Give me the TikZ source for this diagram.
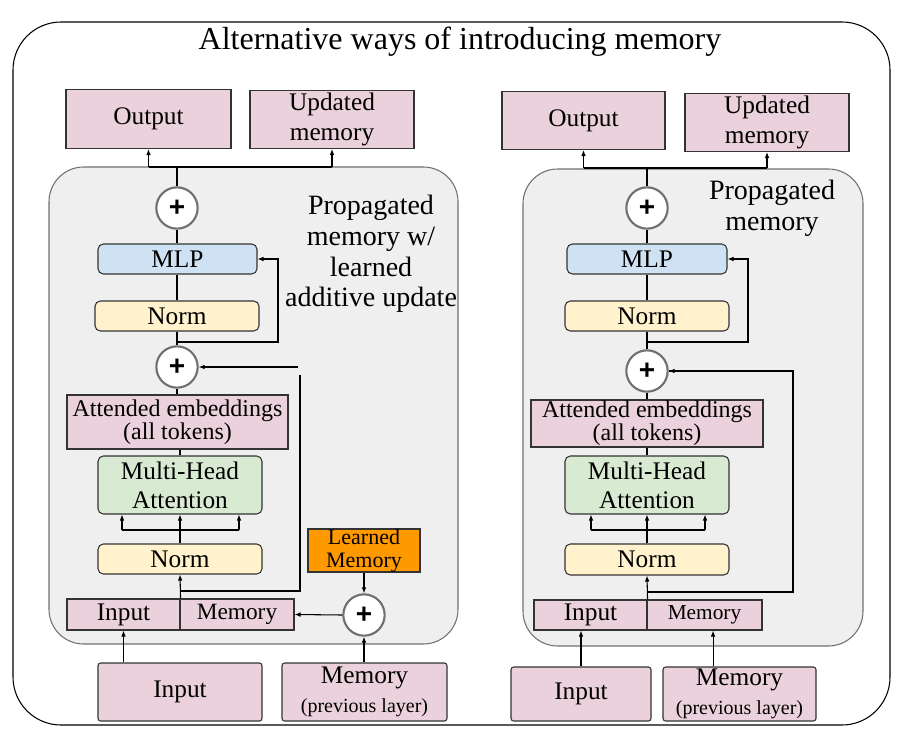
\documentclass[tikz,border=0pt]{standalone}
\usepackage{fontspec}
\setmainfont{Liberation Serif}
\setsansfont{Liberation Sans}
\usetikzlibrary{arrows.meta, positioning, calc}
\definecolor{pinkbox}{HTML}{EAD1DC}
\definecolor{bluebox}{HTML}{CFE2F3}
\definecolor{yellowbox}{HTML}{FFF2CC}
\definecolor{greenbox}{HTML}{D9EAD3}
\definecolor{orangebox}{HTML}{FF9900}
\definecolor{panelgray}{HTML}{EFEFEF}
\definecolor{edgegray}{HTML}{707070}
\begin{document}
\begin{tikzpicture}[x=0.75pt, y=-0.75pt,
  blk/.style={draw=black!80, line width=0.8pt, inner sep=0pt, align=center, font=\fontsize{19}{22}\selectfont},
  sqbox/.style={blk, fill=pinkbox},
  rbox/.style={blk, rounded corners=4pt},
  addnode/.style={circle, draw=edgegray, line width=1.6pt, fill=white, minimum size=31pt, inner sep=0pt, font=\sffamily\bfseries\fontsize{21}{21}\selectfont},
  panel/.style={draw=edgegray, line width=0.8pt, fill=panelgray, rounded corners=26pt},
  arr/.style={-{Latex[length=4.5pt, width=3.5pt]}, line width=0.8pt},
  ln/.style={line width=0.8pt}
]
\useasboundingbox (0,0) rectangle (906,742);
\draw[line width=0.8pt, rounded corners=36pt] (13,22) rectangle (890,725);
\node[font=\fontsize{24}{28}\selectfont] (title) at (460,42) {Alternative ways of introducing memory};

\node[sqbox, minimum width=123.75pt, minimum height=44.25pt] (outL) at (148.5,119) {Output};
\node[sqbox, minimum width=123pt, minimum height=43.5pt] (updL) at (332,119.5) {Updated\\memory};
\draw[panel] (49,167) rectangle (458,644);
\node[addnode] (plusL1) at (177,208) {+};
\node[rbox, fill=bluebox, minimum width=119.25pt, minimum height=22.5pt] (mlpL) at (177.5,259) {MLP};
\node[rbox, fill=yellowbox, minimum width=123pt, minimum height=22.5pt] (normLa) at (177,316) {Norm};
\node[addnode] (plusL2) at (177,367) {+};
\node[sqbox, minimum width=165.75pt, minimum height=40.5pt, font=\fontsize{18}{17}\selectfont] (attL) at (177.5,422) {Attended embeddings\\(all tokens)};
\node[rbox, fill=greenbox, minimum width=123pt, minimum height=43.5pt] (mhaL) at (180,485) {Multi-Head\\Attention};
\node[rbox, fill=yellowbox, minimum width=123pt, minimum height=22.5pt] (normLb) at (180,559) {Norm};
\node[sqbox, minimum width=84.75pt, minimum height=23.25pt] (inL) at (123.5,614.5) {Input};
\node[sqbox, minimum width=85.5pt, minimum height=23.25pt, font=\fontsize{17.5}{20}\selectfont] (memL) at (237,614.5) {Memory};
\node[sqbox, fill=orangebox, minimum width=84pt, minimum height=32.25pt, font=\fontsize{16.5}{17}\selectfont] (lmemL) at (364,550.5) {Learned\\Memory};
\node[addnode] (plusL3) at (364,615) {+};
\node[sqbox, rounded corners=2pt, minimum width=123pt, minimum height=43.5pt] (inbL) at (180,692) {Input};
\node[sqbox, rounded corners=2pt, minimum width=123.75pt, minimum height=43.5pt] (prevL) at (364.5,692) {Memory\\{\fontsize{15}{19}\selectfont(previous layer)}};
\node[align=center, font=\fontsize{21}{23}\selectfont] (noteL) at (371,254) {Propagated\\memory w/\\learned\\additive update};

\coordinate (topL) at (177,167);
\coordinate (fbL) at (278,342);
\coordinate (qL) at (122,530);
\coordinate (vL) at (239,530);
\coordinate (resL) at (300,591);
\coordinate (resLtop) at (300,375);
\coordinate (resLin) at (298,367);
\draw[ln] (plusL1.north) -- (topL);
\draw[ln] (outL.south |- topL) -- (updL.south |- topL);
\draw[arr] (outL.south |- topL) -- (outL.south);
\draw[arr] (updL.south |- topL) -- (updL.south);
\draw[ln] (plusL1.south) -- (plusL1.south |- mlpL.north);
\draw[ln] (normLa.north -| plusL1) -- (plusL1 |- mlpL.south);
\draw[ln] (normLa.south) -- (plusL2.north);
\draw[arr] (plusL2.north |- fbL) -- (fbL) |- (mlpL.east);
\draw[ln] (plusL2.south) -- (plusL2.south |- attL.north);
\draw[ln] (attL.south -| mhaL.north) -- (mhaL.north);
\draw[ln] (normLb.north) -- (normLb.north |- qL);
\draw[ln] (qL) -- (vL);
\foreach \c in {qL, vL} \draw[arr] (\c) -- (\c |- mhaL.south);
\draw[arr] (normLb.north |- qL) -- (mhaL.south -| normLb.north);
\draw[arr] (inL.north east) -- (normLb.south);
\draw[ln] (inL.north east |- resL) -- (resL) -- (resLtop);
\draw[arr] (resLin) -- (plusL2.east);
\draw[arr] (lmemL.south) -- (plusL3.north);
\draw[arr] (plusL3.west) -- (memL.east);
\draw[arr] (prevL.north -| plusL3) -- (plusL3.south);
\draw[arr] (inbL.north -| inL) -- (inL.south);

\node[sqbox, minimum width=122.25pt, minimum height=43.5pt] (outR) at (583.5,120.5) {Output};
\node[sqbox, minimum width=123pt, minimum height=43.5pt] (updR) at (767,122.5) {Updated\\memory};
\draw[panel] (523,169) rectangle (863,646);
\node[addnode] (plusR1) at (647,208) {+};
\node[rbox, fill=bluebox, minimum width=120pt, minimum height=22.5pt] (mlpR) at (647,259) {MLP};
\node[rbox, fill=yellowbox, minimum width=123pt, minimum height=22.5pt] (normRa) at (647,316) {Norm};
\node[addnode] (plusR2) at (647,371) {+};
\node[sqbox, minimum width=174pt, minimum height=35.25pt, font=\fontsize{18}{17}\selectfont] (attR) at (647,423.5) {Attended embeddings\\(all tokens)};
\node[rbox, fill=greenbox, minimum width=123pt, minimum height=43.5pt] (mhaR) at (647,485) {Multi-Head\\Attention};
\node[rbox, fill=yellowbox, minimum width=123pt, minimum height=23.25pt] (normRb) at (647,559.5) {Norm};
\node[sqbox, minimum width=84.75pt, minimum height=22.5pt] (inR) at (590.5,615) {Input};
\node[sqbox, minimum width=86.25pt, minimum height=22.5pt, font=\fontsize{16}{18}\selectfont] (memR) at (704.5,615) {Memory};
\node[sqbox, rounded corners=2pt, minimum width=105pt, minimum height=40.5pt] (inbR) at (581,694) {Input};
\node[sqbox, rounded corners=2pt, minimum width=114.75pt, minimum height=40.5pt] (prevR) at (739.5,694) {Memory\\{\fontsize{15}{19}\selectfont(previous layer)}};
\node[align=center, font=\fontsize{21}{23}\selectfont] (noteR) at (772,208) {Propagated\\memory};

\coordinate (topR) at (647,168);
\coordinate (fbR) at (748,342);
\coordinate (qR) at (591,530);
\coordinate (vR) at (705,530);
\coordinate (resR) at (793,592);
\draw[ln] (plusR1.north) -- (topR);
\draw[ln] (outR.south |- topR) -- (updR.south |- topR);
\draw[arr] (outR.south |- topR) -- (outR.south);
\draw[arr] (updR.south |- topR) -- (updR.south);
\draw[ln] (plusR1.south) -- (mlpR.north);
\draw[ln] (mlpR.south) -- (normRa.north);
\draw[ln] (normRa.south) -- (plusR2.north);
\draw[arr] (plusR2.north |- fbR) -- (fbR) |- (mlpR.east);
\draw[ln] (plusR2.south) -- (attR.north);
\draw[ln] (attR.south) -- (mhaR.north);
\draw[ln] (normRb.north) -- (normRb.north |- qR);
\draw[ln] (qR) -- (vR);
\foreach \c in {qR, vR} \draw[arr] (\c) -- (\c |- mhaR.south);
\draw[arr] (normRb.north |- qR) -- (mhaR.south);
\draw[arr] (inR.north east) -- (normRb.south);
\draw[ln] (inR.north east |- resR) -- (resR) |- (plusR2.east);
\draw[arr] (resR |- plusR2.east) -- (plusR2.east);
\draw[arr] (inbR.north) -- (inbR.north |- inR.south);
\draw[arr] ([xshift=6.4pt]memR.south |- prevR.north) -- ([xshift=6.4pt]memR.south);
\end{tikzpicture}
\end{document}
